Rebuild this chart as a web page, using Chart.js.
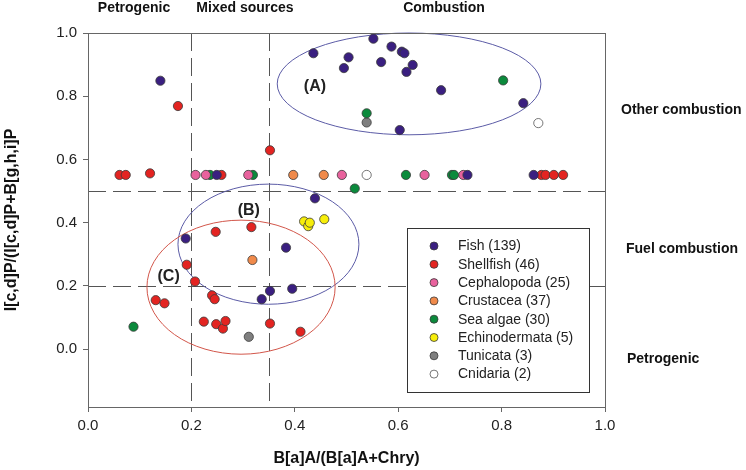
<!DOCTYPE html>
<html>
<head>
<meta charset="utf-8">
<script src="https://cdn.jsdelivr.net/npm/chart.js@4.4.0/dist/chart.umd.min.js"></script>
<style>
html,body{margin:0;padding:0;background:#fff;}
#wrap{width:746px;height:470px;position:relative;}
</style>
</head>
<body>
<div id="wrap"><canvas id="c" width="746" height="470"></canvas></div>
<script>
// ---- data ----
const seriesNames = ["Fish (139)", "Shellfish (46)", "Cephalopoda (25)", "Crustacea (37)", "Sea algae (30)", "Echinodermata (5)", "Tunicata (3)", "Cnidaria (2)"];
const seriesColors = ["#3a1f80", "#e32421", "#e8629d", "#f08a4b", "#0b8a3c", "#f7ee0a", "#7f7f7f", "#ffffff"];

const fishX = [0.140, 0.436, 0.495, 0.504, 0.552, 0.567, 0.587, 0.607, 0.612, 0.628, 0.616, 0.683, 0.842, 0.603, 0.439, 0.189, 0.383, 0.352, 0.336, 0.395, 0.249, 0.734, 0.862];
const fishY = [0.849, 0.936, 0.889, 0.923, 0.982, 0.908, 0.957, 0.941, 0.936, 0.899, 0.877, 0.819, 0.778, 0.693, 0.477, 0.350, 0.321, 0.184, 0.158, 0.191, 0.551, 0.551, 0.551];

const shellX = [0.174, 0.352, 0.061, 0.073, 0.120, 0.258, 0.877, 0.885, 0.901, 0.919, 0.247, 0.316, 0.191, 0.207, 0.131, 0.148, 0.240, 0.245, 0.224, 0.248, 0.261, 0.266, 0.352, 0.411];
const shellY = [0.769, 0.629, 0.551, 0.551, 0.556, 0.551, 0.551, 0.551, 0.551, 0.551, 0.371, 0.386, 0.267, 0.214, 0.155, 0.145, 0.170, 0.158, 0.087, 0.079, 0.065, 0.089, 0.081, 0.055];

const cephX = [0.208, 0.228, 0.310, 0.491, 0.651, 0.726];
const cephY = [0.551, 0.551, 0.551, 0.551, 0.551, 0.551];

const crustX = [0.397, 0.456, 0.318];
const crustY = [0.551, 0.551, 0.282];

const algaeX = [0.539, 0.803, 0.236, 0.319, 0.516, 0.615, 0.704, 0.708, 0.088];
const algaeY = [0.746, 0.850, 0.551, 0.551, 0.508, 0.551, 0.551, 0.551, 0.071];

const echinoX = [0.418, 0.426, 0.429, 0.457];
const echinoY = [0.404, 0.389, 0.400, 0.411];

const tunicX = [0.539, 0.311];
const tunicY = [0.717, 0.039];

const cnidX = [0.539, 0.871];
const cnidY = [0.551, 0.715];

const xTicks = [0.0, 0.2, 0.4, 0.6, 0.8, 1.0];
const yTicks = [0.0, 0.2, 0.4, 0.6, 0.8, 1.0];

// threshold lines
const xThresholds = [0.2, 0.35];
const yThresholds = [0.5, 0.2];

// ellipses: centre x, centre y, radius x, radius y (data units)
const ellipseNames = ["(A)", "(B)", "(C)"];
const ellipseCX = [0.621, 0.349, 0.296];
const ellipseCY = [0.839, 0.332, 0.196];
const ellipseRX = [0.255, 0.175, 0.182];
const ellipseRY = [0.161, 0.190, 0.212];
const ellipseLabelX = [0.439, 0.311, 0.156];
const ellipseLabelY = [0.829, 0.438, 0.229];

const topLabels = ["Petrogenic", "Mixed sources", "Combustion"];
const rightLabels = ["Other combustion", "Fuel combustion", "Petrogenic"];

// ---- build ----
const allX = [fishX, shellX, cephX, crustX, algaeX, echinoX, tunicX, cnidX];
const allY = [fishY, shellY, cephY, crustY, algaeY, echinoY, tunicY, cnidY];
const datasets = seriesNames.map((name, i) => ({
  label: name,
  data: allX[i].map((x, j) => ({x: x, y: allY[i][j]})),
  backgroundColor: seriesColors[i],
  borderColor: i === 7 ? '#555' : '#3a3a3a',
  borderWidth: 0.8,
  pointRadius: 4.6,
  pointHoverRadius: 4.6
}));

const overlay = {
  id: 'overlay',
  beforeDatasetsDraw(chart) {
    const {ctx, chartArea: a, scales: {x, y}} = chart;
    ctx.save();
    // dashed threshold lines
    ctx.strokeStyle = '#555';
    ctx.lineWidth = 1;
    ctx.setLineDash([18, 7]);
    xThresholds.forEach(v => {
      const px = Math.round(x.getPixelForValue(v)) + 0.5;
      ctx.beginPath(); ctx.moveTo(px, a.top); ctx.lineTo(px, a.bottom); ctx.stroke();
    });
    yThresholds.forEach(v => {
      const py = Math.round(y.getPixelForValue(v)) + 0.5;
      ctx.beginPath(); ctx.moveTo(a.left, py); ctx.lineTo(a.right, py); ctx.stroke();
    });
    ctx.setLineDash([]);
    // ellipses
    const ecol = ['#5b5ba6', '#5b5ba6', '#d2564a'];
    ellipseNames.forEach((n, i) => {
      const cx = x.getPixelForValue(ellipseCX[i]);
      const cy = y.getPixelForValue(ellipseCY[i]);
      const rx = x.getPixelForValue(ellipseCX[i] + ellipseRX[i]) - cx;
      const ry = cy - y.getPixelForValue(ellipseCY[i] + ellipseRY[i]);
      ctx.strokeStyle = ecol[i];
      ctx.lineWidth = 1;
      ctx.beginPath(); ctx.ellipse(cx, cy, rx, ry, 0, 0, Math.PI * 2); ctx.stroke();
    });
    // ellipse labels
    ctx.fillStyle = '#222';
    ctx.font = 'bold 16px "Liberation Sans", Arial, sans-serif';
    ctx.textAlign = 'center';
    ctx.textBaseline = 'middle';
    ellipseNames.forEach((n, i) => {
      ctx.fillText(n, x.getPixelForValue(ellipseLabelX[i]), y.getPixelForValue(ellipseLabelY[i]));
    });
    ctx.restore();
  },
  afterDatasetsDraw(chart) {
    const {ctx, chartArea: a} = chart;
    ctx.save();
    // frame
    ctx.strokeStyle = '#666';
    ctx.lineWidth = 1;
    ctx.strokeRect(Math.round(a.left) + 0.5, Math.round(a.top) + 0.5, Math.round(a.right - a.left), Math.round(a.bottom - a.top));
    // legend box
    const lx = 407, ly = 228, lw = 182, lh = 164;
    ctx.fillStyle = '#fff';
    ctx.fillRect(lx, ly, lw, lh);
    ctx.strokeStyle = '#333';
    ctx.strokeRect(lx + 0.5, ly + 0.5, lw, lh);
    ctx.font = '14px "Liberation Sans", Arial, sans-serif';
    ctx.textAlign = 'left';
    ctx.textBaseline = 'middle';
    chart.data.datasets.forEach((ds, i) => {
      const cy = 246 + i * 18.3;
      ctx.beginPath();
      ctx.arc(434, cy, 4, 0, Math.PI * 2);
      ctx.fillStyle = ds.backgroundColor;
      ctx.fill();
      ctx.lineWidth = 0.8;
      ctx.strokeStyle = ds.borderColor;
      ctx.stroke();
      ctx.fillStyle = '#222';
      ctx.fillText(ds.label, 458, cy + 0.5);
    });
    // region labels
    ctx.font = 'bold 14px "Liberation Sans", Arial, sans-serif';
    ctx.fillStyle = '#111';
    ctx.textAlign = 'center';
    const topX = [134, 245, 444];
    topLabels.forEach((t, i) => ctx.fillText(t, topX[i], 8));
    ctx.textAlign = 'left';
    const rX = [621, 626, 627], rY = [110, 249, 359];
    rightLabels.forEach((t, i) => ctx.fillText(t, rX[i], rY[i]));
    ctx.restore();
  }
};

new Chart(document.getElementById('c'), {
  type: 'scatter',
  data: {datasets},
  options: {
    responsive: false,
    animation: false,
    devicePixelRatio: 1,
    layout: {padding: {left: 0, right: 141, top: 33, bottom: 0}},
    plugins: {legend: {display: false}, tooltip: {enabled: false}},
    scales: {
      x: {
        type: 'linear', min: 0, max: 1,
        afterFit(s) { s.height = 63; },
        afterBuildTicks(s) { s.ticks = xTicks.map(v => ({value: v})); },
        ticks: {color: '#222', font: {size: 15, family: '"Liberation Sans", Arial, sans-serif'}, padding: 5,
          callback: v => Number(v).toFixed(1), maxRotation: 0},
        grid: {drawOnChartArea: false, drawTicks: true, tickLength: 5, color: '#666'},
        border: {display: true, color: '#666'},
        title: {display: true, text: 'B[a]A/(B[a]A+Chry)', color: '#111',
          font: {size: 16, weight: 'bold', family: '"Liberation Sans", Arial, sans-serif'}, padding: {top: 0, bottom: 2}}
      },
      y: {
        type: 'linear', min: -0.183, max: 1.0,
        afterFit(s) { s.width = 88; },
        afterBuildTicks(s) { s.ticks = yTicks.map(v => ({value: v})); },
        ticks: {color: '#222', font: {size: 15, family: '"Liberation Sans", Arial, sans-serif'}, padding: 6,
          callback: v => Number(v).toFixed(1)},
        grid: {drawOnChartArea: false, drawTicks: true, tickLength: 5, color: '#666'},
        border: {display: true, color: '#666'},
        title: {display: true, text: 'I[c,d]P/(I[c,d]P+B[g,h,i]P', color: '#111',
          font: {size: 16, weight: 'bold', family: '"Liberation Sans", Arial, sans-serif'}, padding: {top: 2, bottom: 0}}
      }
    }
  },
  plugins: [overlay]
});
</script>
</body>
</html>
